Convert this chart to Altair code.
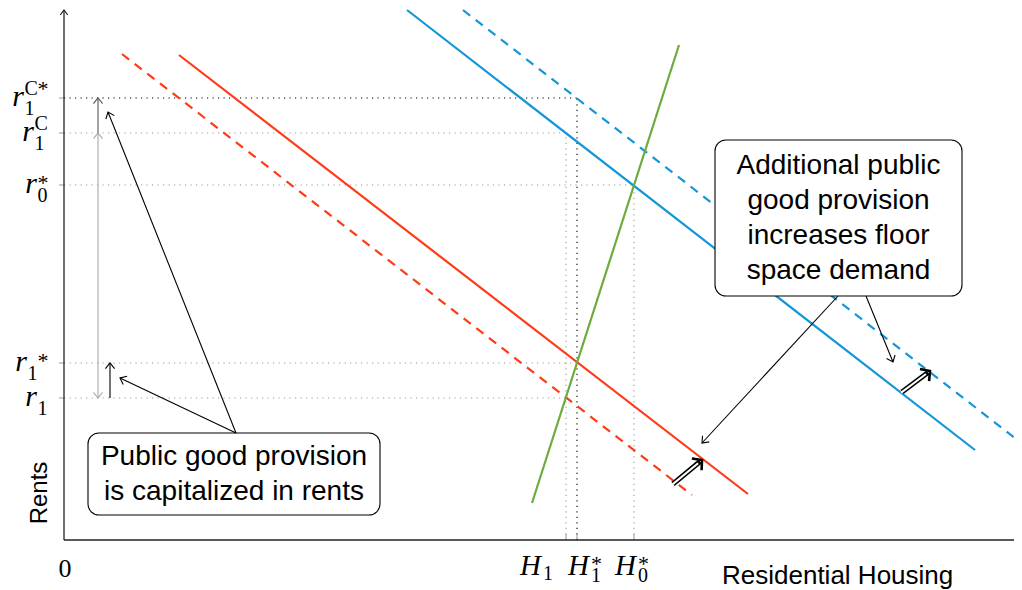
import math
import altair as alt
import pandas as pd

# ---------------- data ----------------
# straight demand / supply schedules (x = residential housing, y = rent)
curve_x0 = [0.58, 1.15, 3.43, 3.99, 4.68]
curve_y0 = [4.86, 4.85, 5.30, 5.30, 0.37]
curve_x1 = [6.28, 6.84, 9.11, 9.56, 6.15]
curve_y1 = [0.45, 0.46, 0.90, 0.98, 4.95]
curve_color = ["#ff3b17", "#ff3b17", "#1496d8", "#1496d8", "#6cab3d"]
curve_dashed = [True, False, False, True, False]

# rent levels (vertical axis labels)
rent_vals = [4.42, 4.07, 3.55, 1.77, 1.42]
rent_sub = ["1", "1", "0", "1", "1"]
rent_sup = ["C*", "C", "*", "*", ""]
rent_sup_after_sub = [False, False, False, True, False]

# housing quantities (horizontal axis labels)
housing_vals = [5.02, 5.13, 5.70]
housing_sub = ["1", "1", "0"]
housing_sup = ["", "*", "*"]

# dotted guides
hguide_rent = [4.42, 4.07, 3.55, 1.77, 1.42]
hguide_housing = [5.13, 5.02, 5.70, 5.13, 5.02]
hguide_dark = [True, False, False, False, False]
vguide_housing = [5.02, 5.13, 5.70]
vguide_rent = [4.07, 4.42, 3.55]
vguide_dark = [False, True, False]

# thin arrows
arrow_x0 = [0.34, 0.34, 0.46, 1.72, 1.72, 7.74, 8.02]
arrow_y0 = [1.42, 4.07, 1.42, 1.07, 1.07, 2.44, 2.44]
arrow_x1 = [0.34, 0.34, 0.46, 0.44, 0.56, 6.38, 8.29]
arrow_y1 = [4.07, 4.42, 1.77, 4.28, 1.62, 0.97, 1.78]
arrow_color = ["#aaaaaa", "#555555", "#000000", "#000000", "#000000", "#000000", "#000000"]
arrow_both = [True, False, False, False, False, False, False]

# double-line shift arrows
shift_x0 = [6.09, 8.38]
shift_y0 = [0.56, 1.48]
shift_x1 = [6.38, 8.66]
shift_y1 = [0.80, 1.69]

# annotation boxes
box_x0 = [0.24, 6.51]
box_x1 = [3.16, 8.98]
box_y0 = [0.25, 2.44]
box_y1 = [1.07, 4.00]
box_lines = [["Public good provision", "is capitalized in rents"],
             ["Additional public", "good provision", "increases floor", "space demand"]]

x_title = "Residential Housing"
y_title = "Rents"
origin_label = "0"

# ---------------- layout helpers ----------------
X0, Y0, S = 64, 540, 100.0      # pixel position of origin, pixels per unit
def dx(px): return (px - X0) / S
def dy(py): return (Y0 - py) / S
def px_of(v): return X0 + v * S
def py_of(v): return Y0 - v * S

W, H = 1006, 582
xs = alt.Scale(domain=[dx(8), dx(8 + W)], nice=False, zero=False)
ys = alt.Scale(domain=[dy(8 + H), dy(8)], nice=False, zero=False)

def X(f): return alt.X(f"{f}:Q", scale=xs, axis=None)
def Y(f): return alt.Y(f"{f}:Q", scale=ys, axis=None)

def segs(rows, **mk):
    df = pd.DataFrame(rows, columns=["x", "y", "x2", "y2", "c"])
    return alt.Chart(df).mark_rule(**mk).encode(
        x=X("x"), y=Y("y"), x2=alt.X2("x2"), y2=alt.Y2("y2"),
        color=alt.Color("c:N", scale=None))

def heads(rows, shape, size, sw):
    df = pd.DataFrame(rows, columns=["x", "y", "a", "c"])
    return alt.Chart(df).mark_point(shape=shape, size=size, filled=False, strokeWidth=sw,
                                    opacity=1, strokeJoin="miter", strokeCap="butt").encode(
        x=X("x"), y=Y("y"), angle=alt.Angle("a:Q", scale=None),
        color=alt.Color("c:N", scale=None))

def texts(rows, size, font="Liberation Serif", style="normal", align="left",
          baseline="alphabetic", angle=0):
    df = pd.DataFrame(rows, columns=["x", "y", "t"])
    kw = dict(fontSize=size, font=font, fontStyle=style, align=align, baseline=baseline, color="black")
    if angle:
        kw["angle"] = angle
    return alt.Chart(df).mark_text(**kw).encode(x=X("x"), y=Y("y"), text="t:N")

def ang(x0, y0, x1, y1):
    return math.degrees(math.atan2(-(y1 - y0), x1 - x0)) % 360

layers = []

# dotted guides
dark_rows, light_rows = [], []
for r, h, d in zip(hguide_rent, hguide_housing, hguide_dark):
    (dark_rows if d else light_rows).append([0, r, h, r, "#000000" if d else "#9a9a9a"])
for h, r, d in zip(vguide_housing, vguide_rent, vguide_dark):
    (dark_rows if d else light_rows).append([h, 0, h, r, "#000000" if d else "#9a9a9a"])
layers.append(segs(light_rows, strokeWidth=1.1, strokeDash=[1.2, 4.3]))
layers.append(segs(dark_rows, strokeWidth=1.1, strokeDash=[1.2, 4.3]))

# axis ticks
tick_rows = [[-0.05, v, 0.0, v, "#999999"] for v in rent_vals] + \
            [[v, 0.0, v, 0.06, "#999999"] for v in housing_vals]
layers.append(segs(tick_rows, strokeWidth=1))

# axes
layers.append(segs([[0, 0, 0, dy(11), "#222222"], [0, 0, 9.56, 0, "#222222"]], strokeWidth=1.3, clip=True))
layers.append(heads([[0, dy(10), 270, "#222222"]], "M -1 -0.75 L 0 0 L -1 0.75", 100, 1.2))

# curves
solid = [[a, b, c, d, col] for a, b, c, d, col, dsh in
         zip(curve_x0, curve_y0, curve_x1, curve_y1, curve_color, curve_dashed) if not dsh]
dashed = [[a, b, c, d, col] for a, b, c, d, col, dsh in
          zip(curve_x0, curve_y0, curve_x1, curve_y1, curve_color, curve_dashed) if dsh]
layers.append(segs(dashed, strokeWidth=2.2, strokeDash=[9, 7], clip=True))
layers.append(segs(solid, strokeWidth=2.2, clip=True))

# boxes
box_df = pd.DataFrame({"x": box_x0, "x2": box_x1, "y": box_y0, "y2": box_y1})
layers.append(alt.Chart(box_df).mark_rect(cornerRadius=11, fill="white", stroke="black",
                                          strokeWidth=1.1).encode(
    x=X("x"), x2=alt.X2("x2"), y=Y("y"), y2=alt.Y2("y2")))
box_text_rows = []
for bx0, bx1, by0, by1, lines in zip(box_x0, box_x1, box_y0, box_y1, box_lines):
    cx = (bx0 + bx1) / 2
    cy = (by0 + by1) / 2
    n = len(lines)
    for i, t in enumerate(lines):
        box_text_rows.append([cx, cy + ((n - 1) / 2 - i) * 0.35, t])
layers.append(texts(box_text_rows, 28, font="Liberation Sans", align="center", baseline="middle"))

# thin arrows
arrow_rows, head_rows = [], []
for a, b, c, d, col, both in zip(arrow_x0, arrow_y0, arrow_x1, arrow_y1, arrow_color, arrow_both):
    arrow_rows.append([a, b, c, d, col])
    head_rows.append([c, d, ang(a, b, c, d), col])
    if both:
        head_rows.append([a, b, ang(c, d, a, b), col])
layers.append(segs(arrow_rows, strokeWidth=1.1))
layers.append(heads(head_rows, "M -1 -0.8 L 0 0 L -1 0.8", 130, 1.1))

# double-line shift arrows
outer, inner, shead = [], [], []
for a, b, c, d in zip(shift_x0, shift_y0, shift_x1, shift_y1):
    L = math.hypot(c - a, d - b)
    ux, uy = (c - a) / L, (d - b) / L
    outer.append([a, b, c - ux * 0.025, d - uy * 0.025, "#000000"])
    inner.append([a - ux * 0.01, b - uy * 0.01, c - ux * 0.05, d - uy * 0.05, "#ffffff"])
    shead.append([c, d, ang(a, b, c, d), "#000000"])
layers.append(segs(outer, strokeWidth=5.2))
layers.append(segs(inner, strokeWidth=2.0))
layers.append(heads(shead, "M -0.9 -1 L 0 0 L -0.9 1", 230, 2.6))

# rent labels
r_rows, sub_rows, supC_rows, star_rows = [], [], [], []
def w_script(s):
    return sum({"C": 13, "*": 10}.get(ch, 10) for ch in s)
for v, sb, sp, after in zip(rent_vals, rent_sub, rent_sup, rent_sup_after_sub):
    py = py_of(v)
    sw = w_script(sb) + w_script(sp) if after else max(w_script(sb), w_script(sp))
    xb = 47 - sw
    r_rows.append([dx(xb), dy(py + 8), "r"])
    sub_rows.append([dx(xb + 0.5), dy(py + 17), sb])
    if sp:
        sx = xb + 0.5 + (w_script(sb) if after else 0)
        base = py - 3 if "C" in sp else py + 4
        for ch in sp:
            if ch == "C":
                supC_rows.append([dx(sx), dy(base), "C"])
                sx += 13
            else:
                star_rows.append([dx(sx), dy(base + 1), "*"])
                sx += 10

# housing labels
h_left_px = [520, 568, 615]
H_rows = []
for hx, sb, sp in zip(h_left_px, housing_sub, housing_sup):
    H_rows.append([dx(hx), dy(575), "H"])
    sub_rows.append([dx(hx + 23), dy(582 if sp else 580), sb])
    if sp:
        star_rows.append([dx(hx + 23), dy(571), sp])

layers.append(texts(r_rows, 30, style="italic", align="right"))
layers.append(texts(H_rows, 29, style="italic"))
layers.append(texts(sub_rows, 20))
layers.append(texts(supC_rows, 20))
layers.append(texts(star_rows, 22))
layers.append(texts([[dx(65), dy(577), origin_label]], 26, align="center"))

# axis titles
layers.append(texts([[dx(722), dy(584), x_title]], 26, font="Liberation Sans"))
layers.append(texts([[dx(40), dy(493), y_title]], 24, font="Liberation Sans", align="center",
                    baseline="middle", angle=270))

chart = alt.layer(*layers).properties(
    width=W, height=H, padding=0, autosize=alt.AutoSizeParams(type="none")
).configure_view(stroke=None)

chart.save("out.html", embed_options={"renderer": "svg", "actions": False})
